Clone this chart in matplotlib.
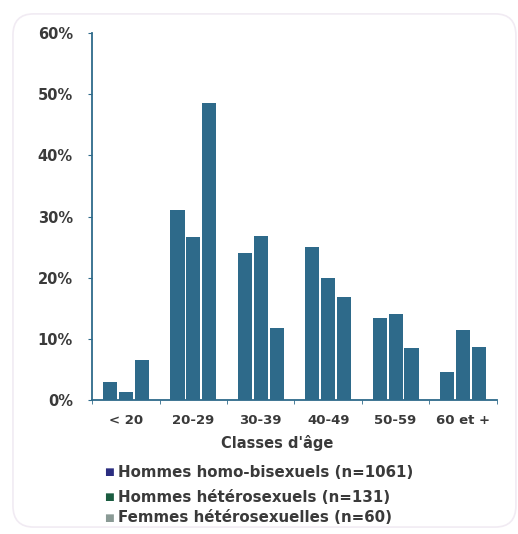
import numpy as np
import matplotlib.pyplot as plt
from matplotlib.patches import FancyBboxPatch
from matplotlib.ticker import PercentFormatter, FixedLocator

plt.rcParams['font.family'] = ['DejaVu Sans']

# données
classes = ['< 20', '20-29', '30-39', '40-49', '50-59', '60 et +']
homo_bi = [2.9, 31.0, 24.0, 25.0, 13.4, 4.5]
hommes_hetero = [1.3, 26.7, 26.8, 20.0, 14.0, 11.5]
femmes_hetero = [6.5, 48.5, 11.7, 16.8, 8.5, 8.7]
series_labels = ['Hommes homo-bisexuels (n=1061)',
                 'Hommes hétérosexuels (n=131)',
                 'Femmes hétérosexuelles (n=60)']
legend_colors = ['#2b2d80', '#1a5c40', '#8a9a95']

bar_color = '#2e6a8a'
text_color = '#3a3a3a'

fig = plt.figure(figsize=(5.18, 5.34), dpi=100)
ax = fig.add_axes([0.178, 0.251, 0.781, 0.687])

# cadre léger autour de la figure
frame = FancyBboxPatch((0.025, 0.013), 0.971, 0.961, boxstyle='round,pad=0,rounding_size=0.04',
                       transform=fig.transFigure, fill=False, edgecolor='#f1ebf3', lw=1.2)
fig.patches.append(frame)

x = np.arange(len(classes))
w = 0.21
off = 0.235
for i, vals in enumerate([homo_bi, hommes_hetero, femmes_hetero]):
    ax.bar(x + (i - 1) * off, vals, width=w, color=bar_color, edgecolor='none')

ax.set_xlim(-0.5, len(classes) - 0.5)
ax.set_ylim(0, 60)
ax.set_yticks(np.arange(0, 61, 10))
ax.yaxis.set_major_formatter(PercentFormatter(decimals=0))
ax.set_xticks(x)
ax.set_xticklabels(classes)
ax.xaxis.set_minor_locator(FixedLocator(np.arange(-0.5, len(classes), 1)))

for s in ['top', 'right']:
    ax.spines[s].set_visible(False)
for s in ['left', 'bottom']:
    ax.spines[s].set_color(bar_color)
    ax.spines[s].set_linewidth(1.3)

ax.tick_params(axis='y', length=3, color=bar_color, labelsize=10.5, labelcolor=text_color, pad=11)
ax.tick_params(axis='x', which='major', length=0, labelsize=9.5, labelcolor=text_color, pad=10)
ax.tick_params(axis='x', which='minor', length=3, color=bar_color)
for lbl in ax.get_xticklabels() + ax.get_yticklabels():
    lbl.set_fontweight('bold')

ax.set_xlabel("Classes d'âge", fontsize=10.5, fontweight='bold', color=text_color)
ax.xaxis.set_label_coords(0.457, -0.095)

# légende sous le graphique
legend_y = [0.116, 0.069, 0.030]
for y, lab, c in zip(legend_y, series_labels, legend_colors):
    fig.text(0.201, y, '■', color=c, fontsize=7.5, va='center', ha='left')
    fig.text(0.228, y, lab, color=text_color, fontsize=10.8, fontweight='bold',
             va='center', ha='left')

fig.savefig('out.png', dpi=100)
